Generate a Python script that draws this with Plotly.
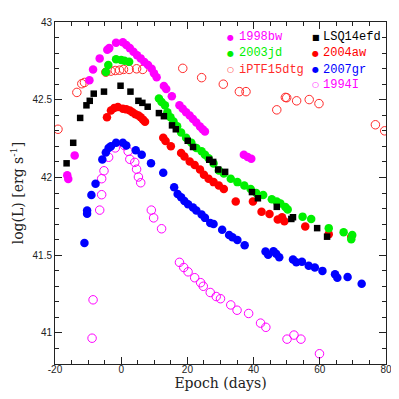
import plotly.graph_objects as go

# ---------------- data (epoch in days, log L) ----------------
sn1998bw_x = [-16.3, -16.0, -14.05, -9.6, -8.5, -6.5, -4.2, -3.6, -1.55, 0.5, 1.55, 2.6, 3.7, 4.8, 5.9, 7.0, 8.1, 9.2, 9.9, 10.7,
              12.9, 13.6, 15.3, 17.6, 18.6, 19.6, 20.7, 21.7, 22.7, 23.8, 24.6, 25.3, 37.05, 38.2, 39.3]
sn1998bw_y = [42.014, 41.99, 42.142, 42.625, 42.695, 42.766, 42.822, 42.832, 42.866, 42.87, 42.852, 42.832, 42.809, 42.786,
              42.766, 42.743, 42.723, 42.70, 42.671, 42.644, 42.588, 42.569, 42.522, 42.464, 42.442, 42.42, 42.399, 42.376,
              42.354, 42.328, 42.31, 42.295, 42.146, 42.132, 42.12]

lsq14efd_x = [-16.5, -14.5, -12.4, -10.5, -9.5, -8.3, -5.2, -0.2, 2.8, 5.2, 6.4, 8.0, 11.4, 12.9, 15.35, 16.5, 20.1, 21.7,
              26.6, 27.8, 29.3, 31.4, 39.5, 41.3, 47.0, 51.4, 51.9, 59.2, 62.2]
lsq14efd_y = [42.091, 42.223, 42.383, 42.464, 42.493, 42.539, 42.552, 42.59, 42.552, 42.493, 42.48, 42.455, 42.414, 42.394,
              42.335, 42.31, 42.236, 42.196, 42.114, 42.10, 42.051, 42.036, 41.906, 41.866, 41.811, 41.733, 41.744, 41.674, 41.619]

sn2003jd_x = [-4.65, -3.9, -1.55, 0.0, 1.0, 2.4, 11.4, 12.2, 13.2, 13.95, 14.9, 15.8, 16.9, 18.1, 19.6, 21.2, 22.7, 24.3,
              25.3, 26.4, 27.9, 29.5, 31.0, 33.1, 35.1, 37.2, 39.1, 40.8, 42.9, 45.5, 47.0, 48.1, 49.6, 50.3, 54.8, 57.4,
              62.7, 67.2, 69.8, 69.5]
sn2003jd_y = [42.679, 42.723, 42.761, 42.756, 42.75, 42.745, 42.508, 42.486, 42.464, 42.42, 42.387, 42.36, 42.33, 42.289,
              42.256, 42.223, 42.19, 42.168, 42.146, 42.124, 42.09, 42.045, 42.025, 41.992, 41.97, 41.948, 41.926, 41.90,
              41.887, 41.86, 41.845, 41.832, 41.81, 41.794, 41.748, 41.733, 41.674, 41.648, 41.63, 41.603]

sn2004aw_x = [-4.3, -3.1, -2.1, -1.0, 0.5, 1.55, 2.6, 3.4, 4.3, 5.2, 5.9, 6.6, 7.2, 12.7, 13.4, 15.0, 18.1, 19.1, 20.7,
              22.2, 23.8, 25.0, 26.4, 27.9, 29.5, 31.0, 34.6, 39.8, 42.4, 44.8, 47.3, 48.6, 49.3, 55.6, 62.7, 69.5]
sn2004aw_y = [42.387, 42.431, 42.447, 42.453, 42.442, 42.438, 42.431, 42.42, 42.407, 42.399, 42.387, 42.372, 42.359,
              42.256, 42.234, 42.201, 42.157, 42.135, 42.102, 42.08, 42.051, 42.018, 41.992, 41.97, 41.948, 41.926,
              41.845, 41.845, 41.779, 41.765, 41.729, 41.744, 41.719, 41.684, 41.634, 41.619]

sn2007gr_x = [-11.1, -10.3, -10.3, -9.0, -7.75, -5.7, -4.65, -3.8, -3.1, -1.55, 0.5, 1.55, 4.4, 6.2, 9.0, 12.7, 16.0,
              17.05, 18.1, 19.1, 20.2, 21.7, 22.7, 24.3, 25.3, 26.9, 27.9, 30.5, 32.6, 33.6, 35.1, 37.3, 43.6, 44.4, 46.0,
              46.8, 47.75, 51.9, 52.9, 54.6, 56.65, 58.5, 60.8, 64.6, 65.3, 68.4, 72.65]
sn2007gr_y = [41.579, 41.788, 41.766, 41.887, 41.959, 42.115, 42.161, 42.19, 42.201, 42.223, 42.223, 42.205, 42.175,
              42.146, 42.091, 42.03, 41.937, 41.893, 41.872, 41.849, 41.827, 41.806, 41.788, 41.762, 41.74, 41.707, 41.70,
              41.663, 41.63, 41.615, 41.597, 41.564, 41.524, 41.503, 41.526, 41.509, 41.487, 41.472, 41.454, 41.458,
              41.432, 41.421, 41.399, 41.377, 41.355, 41.36, 41.316]

iptf15dtg_x = [-19.1, -13.4, -11.9, -11.1, -4.65, -3.1, -1.8, -0.5, 0.7, 2.4, 4.65, 6.5, 18.6, 24.3, 30.85, 35.7, 37.7,
               47.0, 49.6, 50.0, 53.0, 56.8, 59.75, 76.8, 79.6]
iptf15dtg_y = [42.31, 42.547, 42.603, 42.611, 42.677, 42.684, 42.688, 42.69, 42.695, 42.695, 42.699, 42.695, 42.702,
               42.642, 42.60, 42.552, 42.552, 42.435, 42.515, 42.513, 42.493, 42.501, 42.475, 42.339, 42.30]

sn1994i_x = [-8.5, -8.8, -6.5, -5.9, -5.9, -5.2, -3.8, -1.8, 1.0, 2.1, 2.6, 4.1, 4.65, 5.2, 5.9, 9.1, 9.8, 12.2, 17.6,
             18.9, 20.2, 22.2, 24.0, 24.8, 26.9, 28.7, 30.0, 33.1, 35.0, 38.5, 42.1, 43.7, 50.1, 52.2, 54.3, 59.9]
sn1994i_y = [41.213, 40.966, 41.79, 41.889, 41.992, 42.043, 42.13, 42.19, 42.205, 42.168, 42.117, 42.097, 42.053, 42.003,
             41.966, 41.79, 41.74, 41.67, 41.454, 41.421, 41.393, 41.355, 41.323, 41.30, 41.26, 41.234, 41.22, 41.18,
             41.146, 41.125, 41.063, 41.036, 40.96, 40.986, 40.96, 40.866]

x_ticks = [-20, 0, 20, 40, 60, 80]
x_ticktext = ["-20", "0", "20", "40", "60", "80"]
y_ticks = [41, 41.5, 42, 42.5, 43]
y_ticktext = ["41", "41.5", "42", "42.5", "43"]

MAG = "#ff00ff"
GRN = "#00f000"
RED = "#ff0000"
BLU = "#0000ff"
OPENRED = "#ff2a2a"

fig = go.Figure()

def filled(x, y, color, name, symbol="circle", size=8.5):
    fig.add_trace(go.Scatter(x=x, y=y, mode="markers", name=name,
                             marker=dict(symbol=symbol, size=size, color=color, line=dict(width=0))))

def opened(x, y, color, name, size=8.5):
    fig.add_trace(go.Scatter(x=x, y=y, mode="markers", name=name,
                             marker=dict(symbol="circle-open", size=size, color=color, line=dict(width=1))))

opened(sn1994i_x, sn1994i_y, MAG, "1994I")
opened(iptf15dtg_x, iptf15dtg_y, OPENRED, "iPTF15dtg")
filled(sn2007gr_x, sn2007gr_y, BLU, "2007gr")
filled(sn2004aw_x, sn2004aw_y, RED, "2004aw")
filled(sn2003jd_x, sn2003jd_y, GRN, "2003jd")
filled(lsq14efd_x, lsq14efd_y, "#000000", "LSQ14efd", symbol="square", size=6.5)
filled(sn1998bw_x, sn1998bw_y, MAG, "1998bw")

# ---------------- legend as text ----------------
legend_items = [
    ("1998bw", MAG, "●", 0.531, 0.557, 0.956),
    ("LSQ14efd", "#000000", "■", 0.788, 0.811, 0.956),
    ("2003jd", GRN, "●", 0.531, 0.557, 0.909),
    ("2004aw", RED, "●", 0.788, 0.811, 0.909),
    ("iPTF15dtg", OPENRED, "○", 0.531, 0.557, 0.861),
    ("2007gr", BLU, "●", 0.788, 0.811, 0.861),
    ("1994I", MAG, "○", 0.788, 0.811, 0.816),
]
for label, col, sym, mx, tx, ty in legend_items:
    fig.add_annotation(xref="paper", yref="paper", x=mx, y=ty, text=sym, showarrow=False,
                       xanchor="center", yanchor="middle", font=dict(size=8, color=col, family="DejaVu Sans"))
    fig.add_annotation(xref="paper", yref="paper", x=tx, y=ty, text=label, showarrow=False,
                       xanchor="left", yanchor="middle", xshift=-2,
                       font=dict(size=12, color=col, family="Courier New, Liberation Mono, monospace"))

axis_common = dict(
    showgrid=False, zeroline=False, showline=True, linecolor="#222", linewidth=1,
    mirror="ticks", ticks="inside", ticklen=7, tickwidth=1, tickcolor="#222",
    tickfont=dict(family="Liberation Sans, Arial, sans-serif", size=10, color="#222"),
)

fig.update_xaxes(range=[-20, 80], tickvals=x_ticks, ticktext=x_ticktext, ticklabelstandoff=-4,
                 minor=dict(ticks="inside", ticklen=4, tickwidth=1, tickcolor="#222", dtick=5, tick0=0, showgrid=False),
                 title=dict(text="Epoch (days)", font=dict(family="DejaVu Serif", size=14, color="#222"), standoff=4),
                 **axis_common)
fig.update_yaxes(range=[40.8, 43], tickvals=y_ticks, ticktext=y_ticktext,
                 minor=dict(ticks="inside", ticklen=4, tickwidth=1, tickcolor="#222", dtick=0.1, tick0=41, showgrid=False),
                 title=dict(text="log(L) [erg s<sup>-1</sup>]", font=dict(family="DejaVu Serif", size=14, color="#222"),
                            standoff=10),
                 **axis_common)

# the page body adds an 8px margin, so the figure is 8px smaller and shifted
fig.update_layout(width=391, height=391, autosize=False,
                  margin=dict(l=47, r=13, t=14, b=35, autoexpand=False),
                  plot_bgcolor="white", paper_bgcolor="white", showlegend=False)

fig.write_html("out.html")
